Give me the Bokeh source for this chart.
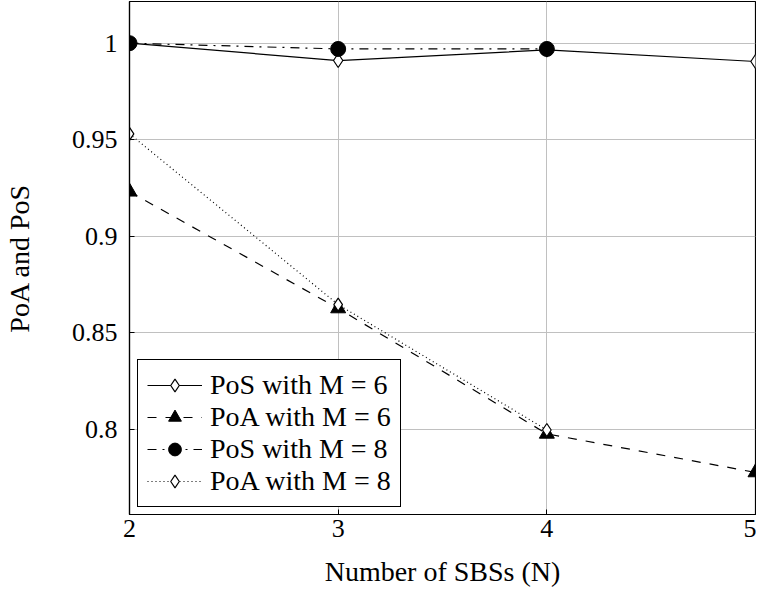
from bokeh.plotting import figure
from bokeh.models import Range1d, FixedTicker, CustomJSTickFormatter
from bokeh.embed import file_html
from bokeh.resources import INLINE

# ---- data ----
N = [2, 3, 4, 5]
N8 = [2, 3, 4]
pos_m6 = [1.0, 0.991, 0.9965, 0.9905]
poa_m6 = [0.923, 0.8625, 0.7975, 0.7775]
pos_m8 = [1.0, 0.997, 0.997]
poa_m8 = [0.953, 0.8645, 0.7995]
x_ticks = [2, 3, 4, 5]
y_ticks = [0.8, 0.85, 0.9, 0.95, 1.0]

FONT = "'Liberation Serif', serif"

p = figure(width=756, height=597, output_backend="svg", toolbar_location=None,
           x_range=Range1d(2, 5), y_range=Range1d(0.7557, 1.0216),
           min_border_left=126, min_border_right=1, min_border_top=1,
           min_border_bottom=83,
           x_axis_label="Number of SBSs (N)", y_axis_label="PoA and PoS")

p.background_fill_color = "white"
p.border_fill_color = "white"
p.outline_line_color = "black"
p.outline_line_width = 1.2
p.outline_line_alpha = 1

p.xaxis.ticker = FixedTicker(ticks=x_ticks)
p.yaxis.ticker = FixedTicker(ticks=y_ticks)
p.yaxis.formatter = CustomJSTickFormatter(
    code="return (Math.round(tick*100)/100).toString();")

for ax in (p.xaxis, p.yaxis):
    ax.major_label_text_font = FONT
    ax.major_label_text_font_size = "26px"
    ax.major_label_text_color = "black"
    ax.axis_label_text_font = FONT
    ax.axis_label_text_font_size = "28px"
    ax.axis_label_text_font_style = "normal"
    ax.axis_label_text_color = "black"
    ax.minor_tick_line_color = None
    ax.major_tick_in = 5
    ax.major_tick_out = 0
    ax.major_tick_line_color = "black"
    ax.axis_line_color = "black"
    ax.axis_line_width = 1.2

p.xaxis.major_label_standoff = 5
p.xaxis.axis_label_standoff = 16
p.yaxis.major_label_standoff = 12
p.yaxis.axis_label_standoff = 34

p.xgrid.grid_line_color = "#c0c0c0"
p.ygrid.grid_line_color = "#c0c0c0"
p.xgrid.grid_line_width = 1
p.ygrid.grid_line_width = 1

LW = 1.2
p.line(N, pos_m6, line_color="black", line_width=LW, legend_label="PoS with M = 6")
p.scatter(N, pos_m6, marker="diamond", size=14, fill_color="white",
          line_color="black", line_width=1.2, legend_label="PoS with M = 6")

p.line(N, poa_m6, line_color="black", line_width=LW, line_dash="9 9",
       legend_label="PoA with M = 6")
p.scatter(N, poa_m6, marker="triangle", size=15, fill_color="black",
          line_color="black", legend_label="PoA with M = 6")

p.line(N8, pos_m8, line_color="black", line_width=LW, line_dash="9 6 2 6",
       legend_label="PoS with M = 8")
p.scatter(N8, pos_m8, marker="circle", size=15, fill_color="black",
          line_color="black", legend_label="PoS with M = 8")

p.line(N8, poa_m8, line_color="black", line_width=LW, line_dash="1 3",
       legend_label="PoA with M = 8")
p.scatter(N8, poa_m8, marker="diamond", size=13, fill_color="white",
          line_color="black", line_width=1.2, legend_label="PoA with M = 8")

lg = p.legend[0]
lg.location = (8, 7)
lg.border_line_color = "black"
lg.border_line_alpha = 1
lg.border_line_width = 1.2
lg.background_fill_color = "white"
lg.background_fill_alpha = 1
lg.label_text_font = FONT
lg.label_text_font_size = "28px"
lg.label_text_color = "black"
lg.glyph_width = 55
lg.glyph_height = 32
lg.label_height = 32
lg.label_standoff = 8
lg.spacing = 0
lg.padding = 9
lg.margin = 0

open("out.html", "w").write(file_html(p, INLINE))
